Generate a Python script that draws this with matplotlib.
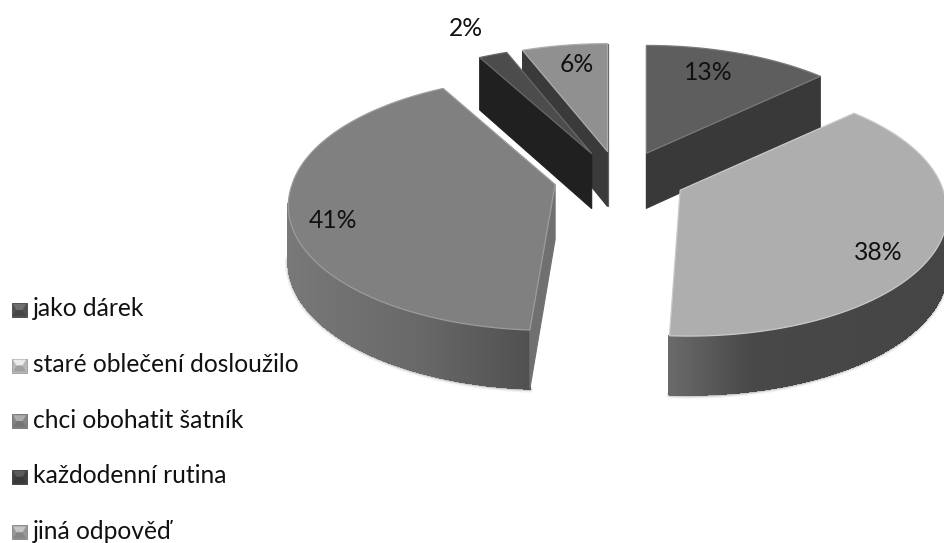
import matplotlib
matplotlib.use('Agg')
import matplotlib.pyplot as plt
from matplotlib.collections import PolyCollection
from matplotlib.patches import Polygon
import numpy as np

labels = ['jako dárek', 'staré oblečení dosloužilo', 'chci obohatit šatník',
          'každodenní rutina', 'jiná odpověď']
values = [13, 38, 41, 2, 6]
pct_text = ['13%', '38%', '41%', '2%', '6%']

# styles, one entry per slice
top_gray = [0x5e, 0xae, 0x80, 0x4c, 0x90]
start_gray = [0x90, None, 0x70, 0x20, 0x3a]
end_gray = [0x39, None, None, None, 0x60]
ramp_x = [None, [668, 750, 944], [288, 420, 530], None, None]
ramp_gray = [None, [0x6a, 0x48, 0x45], [0x78, 0x68, 0x50], None, None]
lean = [0, 0.06, -0.04, 0, 0]
legend_gray = [0x50, 0xb8, 0x84, 0x40, 0x98]
pct_x = [708, 878, 333, 466, 577]
pct_y = [72, 252, 221, 28, 64]
draw_order = [4, 0, 3, 2, 1]

# pie geometry in pixels
cx, cy = 620, 178.5
ex, ey = 66.5, 27.5
a, b, k = 263, 124, 0.15
depth = 55
font_size = 17.7

fig = plt.figure(figsize=(9.44, 5.43), dpi=100)
ax = fig.add_axes([0, 0, 1, 1])
ax.set_xlim(0, 944)
ax.set_ylim(543, 0)
ax.axis('off')


def project(tip, th, shear=0):
    s = 1 / (1 + k * np.cos(th))
    dy = -b * np.cos(th) * s
    return tip[0] + a * np.sin(th) * s + shear * np.maximum(dy, 0), tip[1] + dy, depth * s ** 0.4


def g(v):
    v = min(v, 255)
    return '#%02x%02x%02x' % (int(v), int(v), int(v))


def cut_face(tip, th, gray, shear, z):
    x, y, d = project(tip, th, shear)
    pts = [(tip[0], tip[1]), (x, y), (x, y + d), (tip[0], tip[1] + depth)]
    ax.add_patch(Polygon(pts, closed=True, fc=g(gray), ec=g(gray), lw=0.8, zorder=z))


edges = np.cumsum([0] + values) / sum(values) * 2 * np.pi
z = 1
for i in draw_order:
    t0, t1 = edges[i], edges[i + 1]
    mid = (t0 + t1) / 2
    tip = (cx + ex * np.sin(mid), cy - ey * np.cos(mid))

    # outer wall, only the part turned to the viewer
    if ramp_x[i] is not None:
        lo = max(t0, np.pi - np.arccos(k))
        hi = min(t1, np.pi + np.arccos(k))
        th = np.linspace(lo, hi, 160)
        x, y, d = project(tip, th, lean[i])
        # soft shadow round the wall
        for lw, al in [(5, 0.05), (3, 0.10), (1.5, 0.18)]:
            ax.plot(x, y + d + 0.5, color='k', alpha=al, lw=lw, zorder=z,
                    solid_capstyle='round')
        polys, cols = [], []
        for j in range(len(th) - 1):
            polys.append([(x[j], y[j]), (x[j + 1], y[j + 1]),
                          (x[j + 1], y[j + 1] + d[j + 1]), (x[j], y[j] + d[j])])
            c = np.interp((x[j] + x[j + 1]) / 2, ramp_x[i], ramp_gray[i]) / 255
            cols.append((c, c, c))
        ax.add_collection(PolyCollection(polys, facecolors=cols, edgecolors=cols,
                                         linewidths=0.8, antialiaseds=False, zorder=z + 0.1))

    if start_gray[i] is not None:
        cut_face(tip, t0, start_gray[i], lean[i], z + 0.2)
    if end_gray[i] is not None:
        cut_face(tip, t1, end_gray[i], lean[i], z + 0.2)

    # top surface
    th = np.linspace(t0, t1, 120)
    x, y, d = project(tip, th, lean[i])
    pts = np.vstack([[tip[0], tip[1]], np.column_stack([x, y])])
    ax.add_patch(Polygon(pts, closed=True, fc=g(top_gray[i]), ec=g(top_gray[i] + 28),
                         lw=0.9, joinstyle='round', zorder=z + 0.3))
    z += 1

for i in range(len(values)):
    ax.text(pct_x[i], pct_y[i], pct_text[i], ha='center', va='center',
            family='Lato', fontsize=font_size, color='#111111', zorder=20)

# legend with small bevelled squares
for i, lab in enumerate(labels):
    y0 = 310 + i * 55.6
    l, r, t, bt = 12, 27, y0 - 7, y0 + 7
    ax.add_patch(Polygon([(l, t), (r, t), (r, bt), (l, bt)], fc=g(legend_gray[i]),
                         ec=g(legend_gray[i] * 0.85), lw=0.6, zorder=21))
    ax.add_patch(Polygon([(l + 1, t + 1), (r - 1, t + 1), ((l + r) / 2 + 3, y0), ((l + r) / 2 - 3, y0)],
                         fc=g(legend_gray[i] * 1.2 + 15), ec='none', zorder=22))
    ax.add_patch(Polygon([(l + 1, bt - 1), (r - 1, bt - 1), ((l + r) / 2 + 3, y0), ((l + r) / 2 - 3, y0)],
                         fc=g(legend_gray[i] * 0.88), ec='none', zorder=22))
    ax.text(33, y0 - 1, lab, ha='left', va='center', family='Lato',
            fontsize=font_size, color='#111111', zorder=22)

fig.savefig('out.png', dpi=100)
